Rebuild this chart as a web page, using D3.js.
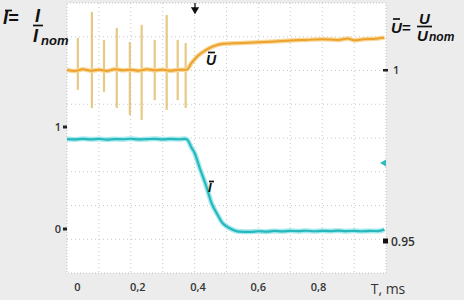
<!DOCTYPE html>
<html>
<head>
<meta charset="utf-8">
<script src="https://cdn.jsdelivr.net/npm/d3@7"></script>
<style>
  body { margin: 0; background: #ececec; }
  svg { display: block; }
  .tlab { font-family: "Liberation Sans", Arial, sans-serif; font-weight: bold; font-style: italic; fill: #111; }
  .num { font-family: "Open Sans", "DejaVu Sans", sans-serif; font-weight: 600; fill: #333; }
</style>
</head>
<body>
<div class="chart"></div>
<script>

// time axis labels
var tickVals = [0, 0.2, 0.4, 0.6, 0.8];

// current I/Inom (left scale)
var iTime = [0, 0.025, 0.05, 0.075, 0.1, 0.125, 0.15, 0.175, 0.2, 0.225, 0.25, 0.275, 0.3, 0.325, 0.35, 0.37,
	0.378, 0.39, 0.40, 0.416, 0.4375, 0.453, 0.469, 0.4875, 0.509, 0.54, 0.575, 0.6, 0.625, 0.65, 0.675,
	0.7, 0.725, 0.75, 0.775, 0.8, 0.825, 0.85, 0.875, 0.9, 0.925, 0.95, 0.975, 0.995];
var iVal = [0.882, 0.878, 0.884, 0.879, 0.883, 0.877, 0.882, 0.880, 0.885, 0.878, 0.881, 0.884, 0.879, 0.883, 0.880, 0.884,
	0.873, 0.80, 0.745, 0.598, 0.41, 0.255, 0.157, 0.059, 0.01, -0.025, -0.028, -0.022, -0.026, -0.019, -0.023,
	-0.018, -0.021, -0.017, -0.022, -0.018, -0.020, -0.016, -0.021, -0.018, -0.022, -0.019, -0.020, -0.006];

// voltage U/Unom (right scale)
var uTime = [0, 0.025, 0.05, 0.075, 0.1, 0.125, 0.15, 0.175, 0.2, 0.225, 0.25, 0.275, 0.3, 0.325, 0.35, 0.375,
	0.39, 0.41, 0.435, 0.46, 0.49, 0.52, 0.55, 0.6, 0.65, 0.7, 0.75, 0.8, 0.85, 0.88, 0.9, 0.93, 0.96, 0.995];
var uVal = [1.0000, 0.9997, 1.0002, 0.9998, 1.0001, 0.9997, 1.0002, 0.9999, 1.0001, 0.9998, 1.0002, 0.9999, 1.0001, 0.9998, 1.0001, 1.0001,
	1.0020, 1.0041, 1.0058, 1.0070, 1.0077, 1.0078, 1.0079, 1.0081, 1.0083, 1.0086, 1.0088, 1.0090, 1.0088, 1.0092, 1.0087, 1.0090, 1.0091, 1.0094];

// switching spikes on the voltage trace
var spikeT = [0.034, 0.078, 0.116, 0.156, 0.197, 0.234, 0.275, 0.3125, 0.347, 0.372];
var spikeTop = [1.0094, 1.0170, 1.0088, 1.0123, 1.0082, 1.0132, 1.0088, 1.0161, 1.0088, 1.0079];
var spikeBot = [0.9942, 0.9889, 0.9936, 0.9889, 0.9868, 0.9854, 0.9912, 0.9883, 0.9912, 0.9889];

var width = 464, height = 300;

var svg = d3.select('.chart')
	.append('svg')
	.attr('width', width)
	.attr('height', height);

var x = d3.scaleLinear().domain([0, 1]).range([67, 386]);
var xLab = d3.scaleLinear().domain([0, 0.8]).range([77, 318]);
var yDiv = d3.scaleLinear().domain([0, 8]).range([273, 3]);
var yI = d3.scaleLinear().domain([0, 1]).range([229, 127]);
var yU = d3.scaleLinear().domain([0.95, 1]).range([241, 70]);

// plot area
svg.append('rect')
	.attr('x', x(0))
	.attr('y', yDiv(8))
	.attr('width', x(1) - x(0))
	.attr('height', yDiv(0) - yDiv(8))
	.style('fill', '#fff')
	.style('stroke', '#c4c4c4')
	.style('stroke-dasharray', '1,2');

// grid
svg.append('g').selectAll('line')
	.data(d3.range(0.1, 1, 0.1))
	.enter().append('line')
	.attr('x1', function(d){ return x(d); })
	.attr('x2', function(d){ return x(d); })
	.attr('y1', yDiv(8))
	.attr('y2', yDiv(0))
	.style('stroke', '#c8c8c8')
	.style('stroke-dasharray', '1,3');

svg.append('g').selectAll('line')
	.data(d3.range(1, 8))
	.enter().append('line')
	.attr('x1', x(0))
	.attr('x2', x(1))
	.attr('y1', function(d){ return yDiv(d); })
	.attr('y2', function(d){ return yDiv(d); })
	.style('stroke', '#c8c8c8')
	.style('stroke-dasharray', '1,3');

// spikes
svg.append('g').selectAll('line')
	.data(spikeT)
	.enter().append('line')
	.attr('x1', function(d){ return x(d); })
	.attr('x2', function(d){ return x(d); })
	.attr('y1', function(d,i){ return yU(spikeTop[i]); })
	.attr('y2', function(d,i){ return yU(spikeBot[i]); })
	.style('stroke', '#e2bb66')
	.style('stroke-width', 2.2)
	.style('opacity', 0.8);

var lineU = d3.line()
	.x(function(d,i){ return x(uTime[i]); })
	.y(function(d){ return yU(d); })
	.curve(d3.curveMonotoneX);

var lineI = d3.line()
	.x(function(d,i){ return x(iTime[i]); })
	.y(function(d){ return yI(d); })
	.curve(d3.curveMonotoneX);

// voltage trace
svg.append('path')
	.attr('d', lineU(uVal))
	.style('fill', 'none')
	.style('stroke', '#f7d79a')
	.style('stroke-width', 4.5);
svg.append('path')
	.attr('d', lineU(uVal))
	.style('fill', 'none')
	.style('stroke', '#eda22c')
	.style('stroke-width', 2);

// current trace
svg.append('path')
	.attr('d', lineI(iVal))
	.style('fill', 'none')
	.style('stroke', '#a6e9ec')
	.style('stroke-width', 5);
svg.append('path')
	.attr('d', lineI(iVal))
	.style('fill', 'none')
	.style('stroke', '#26b8bc')
	.style('stroke-width', 2.2);

// time labels
var xAxis = d3.axisBottom(xLab)
	.tickValues(tickVals)
	.tickSize(0)
	.tickPadding(0)
	.tickFormat(function(d){ return d === 0 ? '0' : d3.format('.1f')(d).replace('.', ','); });

var gx = svg.append('g')
	.attr('transform', 'translate(0,283)')
	.call(xAxis);
gx.select('.domain').remove();
gx.selectAll('text')
	.attr('class', 'num')
	.style('font-size', '11px')
	.attr('fill', '#333');

svg.append('text')
	.attr('x', 388)
	.attr('y', 294)
	.style('text-anchor', 'middle')
	.style('font-family', '"Open Sans", sans-serif')
	.style('font-size', '14px')
	.style('fill', '#333')
	.text('T, ms');

// left scale marks
var leftMarks = [1, 0];
svg.append('g').selectAll('rect')
	.data(leftMarks)
	.enter().append('rect')
	.attr('x', 63)
	.attr('y', function(d){ return yI(d) - 1.5; })
	.attr('width', 4)
	.attr('height', 3)
	.style('fill', '#222');
svg.append('g').selectAll('text')
	.data(leftMarks)
	.enter().append('text')
	.attr('class', 'num')
	.attr('x', 61)
	.attr('y', function(d){ return yI(d); })
	.attr('dy', '.35em')
	.style('text-anchor', 'end')
	.style('font-size', '11px')
	.text(function(d){ return d; });

// right scale marks
svg.append('rect')
	.attr('x', 383).attr('y', yU(1) - 1).attr('width', 5).attr('height', 2.5)
	.style('fill', '#222');
svg.append('text')
	.attr('class', 'num')
	.attr('x', 393).attr('y', yU(1)).attr('dy', '.35em')
	.style('font-size', '11px')
	.text('1');
svg.append('rect')
	.attr('x', 383).attr('y', yU(0.95) - 2.5).attr('width', 5).attr('height', 5)
	.style('fill', '#111');
svg.append('text')
	.attr('class', 'num')
	.attr('x', 391).attr('y', yU(0.95) + 1).attr('dy', '.35em')
	.style('font-size', '12px')
	.text('0.95');

// trigger arrow and channel marker
svg.append('path')
	.attr('d', 'M195,3 L195,9 M192,8 L198,8 L195,13 Z')
	.style('stroke', '#111')
	.style('stroke-width', 1.3)
	.style('fill', '#111');
svg.append('path')
	.attr('d', 'M380,163 L386,159.5 L386,166.5 Z')
	.style('fill', '#2fbcbf');

// titles
function overbar(x1, x2, y){
	svg.append('line')
		.attr('x1', x1).attr('x2', x2).attr('y1', y).attr('y2', y)
		.style('stroke', '#111').style('stroke-width', 1.7);
}

svg.append('text').attr('class', 'tlab').attr('x', 3).attr('y', 24).style('font-size', '18px').text('I=');
overbar(5, 12, 10.5);
svg.append('text').attr('class', 'tlab').attr('x', 35).attr('y', 22).style('font-size', '18px').text('I');
overbar(33, 43, 25.5);
svg.append('text').attr('class', 'tlab').attr('x', 33).attr('y', 42).style('font-size', '18px').text('I');
svg.append('text').attr('class', 'tlab').attr('x', 41).attr('y', 45).style('font-size', '13px').text('nom');

svg.append('text').attr('class', 'tlab').attr('x', 391).attr('y', 33).style('font-size', '15px').text('U=');
overbar(393, 400, 19);
svg.append('text').attr('class', 'tlab').attr('x', 419).attr('y', 24).style('font-size', '15px').text('U');
overbar(417, 432, 26.5);
svg.append('text').attr('class', 'tlab').attr('x', 417).attr('y', 41).style('font-size', '15px').text('U');
svg.append('text').attr('class', 'tlab').attr('x', 429).attr('y', 41).style('font-size', '12px').text('nom');

// curve labels
svg.append('text').attr('class', 'tlab').attr('x', 206).attr('y', 65).style('font-size', '14px').text('U');
overbar(208, 215, 52.5);
svg.append('text').attr('class', 'tlab').attr('x', 208).attr('y', 192).style('font-size', '13px').text('I');
overbar(209, 214, 181.5);

</script>
</body>
</html>
